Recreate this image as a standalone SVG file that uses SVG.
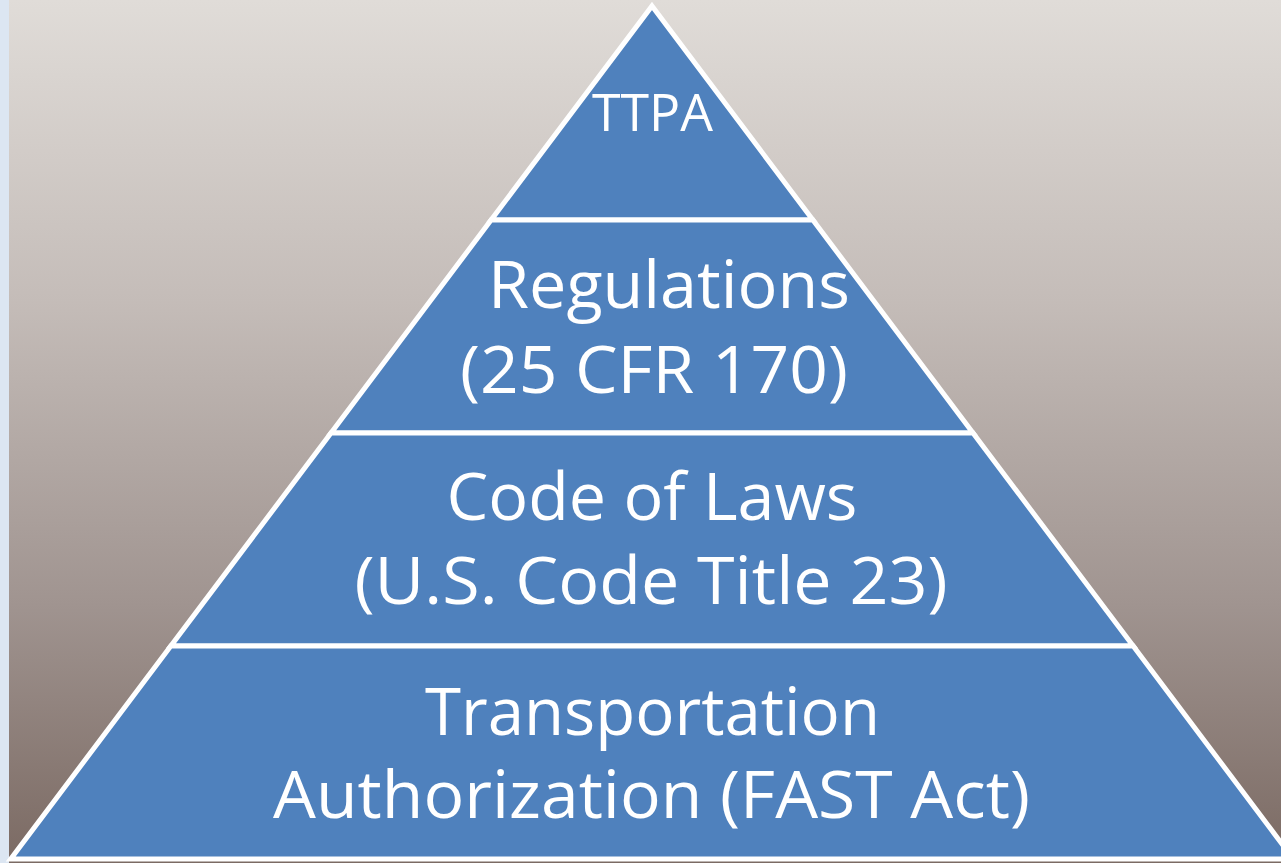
<svg xmlns="http://www.w3.org/2000/svg" width="1281" height="863" viewBox="0 0 1281 863">
  <defs>
    <linearGradient id="bg" x1="0" y1="0" x2="0" y2="1">
      <stop offset="0" stop-color="#e0dcd8"/>
      <stop offset="0.35" stop-color="#c4bcb8"/>
      <stop offset="0.7" stop-color="#a09490"/>
      <stop offset="1" stop-color="#7b6a63"/>
    </linearGradient>
  </defs>
  <style>
    .seg { fill: #4f81bd; stroke: #ffffff; stroke-width: 5; stroke-linejoin: miter; }
    .lbl { fill: #ffffff; font-family: "Open Sans", "Noto Sans", "Liberation Sans", sans-serif; text-anchor: middle; }
  </style>
  <rect x="0" y="0" width="1281" height="863" fill="#ffffff"/>
  <rect x="0" y="0" width="9" height="863" fill="#dce6f2"/>
  <rect x="9" y="0" width="1272" height="863" fill="url(#bg)"/>
  <g id="level-ttpa">
    <polygon class="seg" points="652,6 812.9,220 491.1,220"/>
    <text class="lbl" x="652.5" y="131" font-size="52" textLength="121" lengthAdjust="spacingAndGlyphs">TTPA</text>
  </g>
  <g id="level-regulations">
    <polygon class="seg" points="491.1,220 812.9,220 973,433 331,433"/>
    <text class="lbl" x="669" y="308" font-size="66" textLength="362" lengthAdjust="spacingAndGlyphs">Regulations</text>
    <text class="lbl" x="654" y="393" font-size="66" textLength="388" lengthAdjust="spacingAndGlyphs">(25 CFR 170)</text>
  </g>
  <g id="level-code">
    <polygon class="seg" points="331,433 973,433 1133.2,646 170.8,646"/>
    <text class="lbl" x="652" y="520" font-size="66" textLength="411" lengthAdjust="spacingAndGlyphs">Code of Laws</text>
    <text class="lbl" x="651" y="604" font-size="66" textLength="593" lengthAdjust="spacingAndGlyphs">(U.S. Code Title 23)</text>
  </g>
  <g id="level-authorization">
    <polygon class="seg" points="170.8,646 1133.2,646 1293.3,859 10.7,859"/>
    <text class="lbl" x="652.5" y="735" font-size="66" textLength="455" lengthAdjust="spacingAndGlyphs">Transportation</text>
    <text class="lbl" x="651.5" y="818" font-size="66" textLength="757" lengthAdjust="spacingAndGlyphs">Authorization (FAST Act)</text>
  </g>
  <g id="connectors"/>
</svg>
